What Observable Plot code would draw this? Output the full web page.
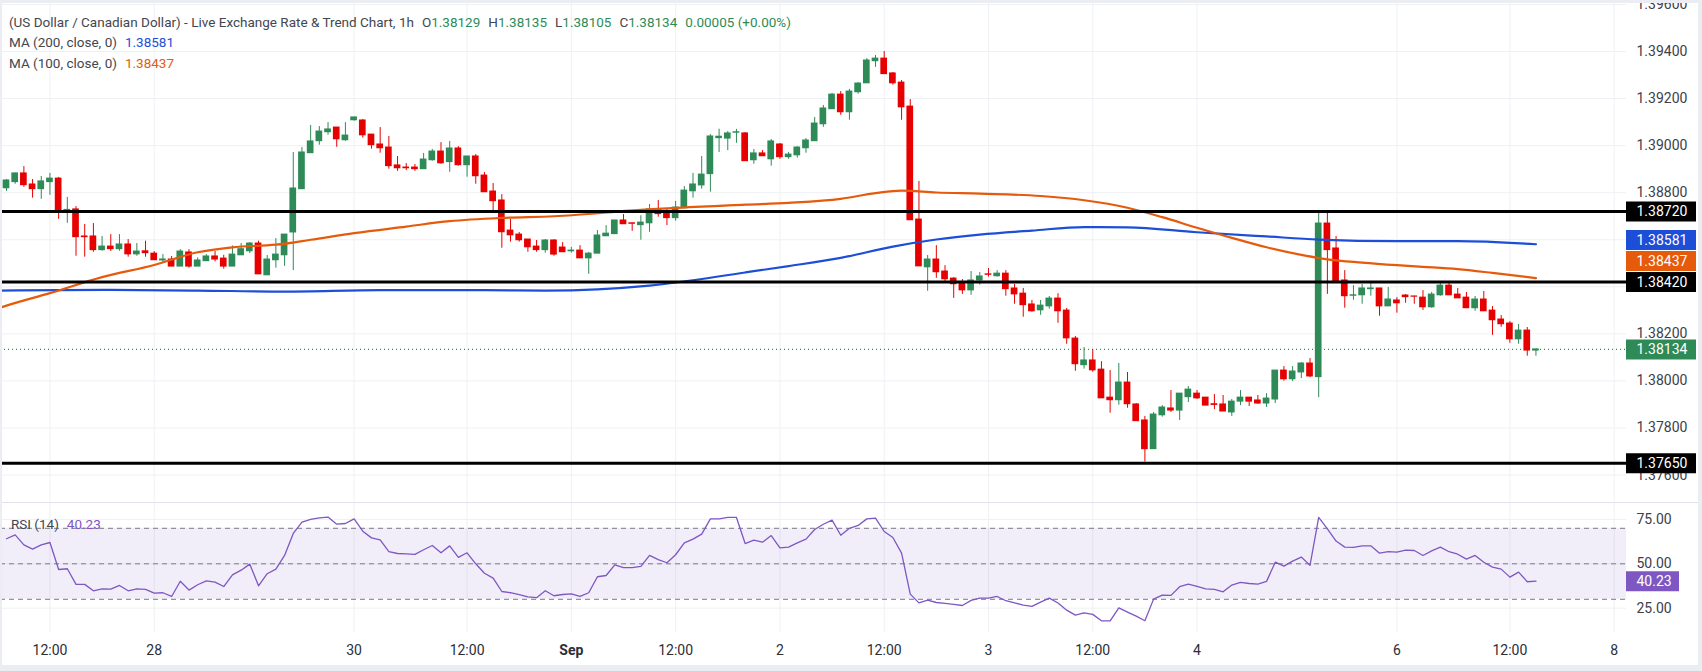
<!DOCTYPE html>
<html><head><meta charset="utf-8">
<script src="https://cdn.jsdelivr.net/npm/d3@7"></script>
<script src="https://cdn.jsdelivr.net/npm/@observablehq/plot@0.6"></script>
<style>
body{margin:0;background:#fff;}
#wrap{position:relative;width:1702px;height:671px;overflow:hidden;font-family:Roboto,"Liberation Sans",sans-serif;background:#fff;}
.row{display:flex;}
.row svg{display:block;}
.sep{position:absolute;left:0;top:502px;width:1702px;height:1px;background:#e0e3eb;}
.lg{position:absolute;left:9px;font-size:13.5px;line-height:20px;color:#43464f;white-space:pre;}
.lg span.g{margin-left:8px;}
.frame{position:absolute;left:0;top:0;width:1702px;height:671px;box-sizing:border-box;border-style:solid;border-color:#ebedf2;border-width:3px 4px 6px 2px;pointer-events:none;}
</style></head><body>
<div id="wrap">
  <div class="row" id="priceRow"></div>
  <div class="row" id="rsiRow"></div>
  <div class="sep"></div>
  <div class="lg" id="lg1" style="top:12px"></div>
  <div class="lg" id="lg2" style="top:32px"></div>
  <div class="lg" id="lg3" style="top:53px"></div>
  <div class="lg" id="lg4" style="top:514px;left:11px"></div>
  <div class="frame"></div>
</div>
<script>
// ---------- data ----------
const open = [1.38819,1.38845,1.38882,1.38835,1.38815,1.38845,1.38860,1.38723,1.38729,1.38614,
1.38614,1.38556,1.38571,1.38560,1.38580,1.38538,1.38551,1.38541,1.38512,1.38516,
1.38486,1.38546,1.38486,1.38509,1.38529,1.38520,1.38486,1.38534,1.38551,1.38584,
1.38449,1.38513,1.38534,1.38631,1.38815,1.38968,1.39019,1.39057,1.39077,1.39023,
1.39108,1.39107,1.39047,1.39005,1.38992,1.38916,1.38907,1.38907,1.38900,1.38938,
1.38975,1.38930,1.38988,1.38917,1.38954,1.38873,1.38805,1.38767,1.38639,1.38622,
1.38601,1.38571,1.38556,1.38597,1.38567,1.38551,1.38554,1.38521,1.38541,1.38615,
1.38624,1.38682,1.38670,1.38662,1.38670,1.38729,1.38711,1.38692,1.38734,1.38806,
1.38831,1.38879,1.39032,1.39030,1.39055,1.39052,1.38938,1.38967,1.38942,1.39005,
1.38951,1.38959,1.38989,1.39019,1.39091,1.39155,1.39217,1.39142,1.39227,1.39265,
1.39359,1.39370,1.39307,1.39268,1.39166,1.38686,1.38483,1.38516,1.38465,1.38435,
1.38415,1.38385,1.38427,1.38453,1.38445,1.38456,1.38393,1.38371,1.38325,1.38300,
1.38317,1.38350,1.38299,1.38180,1.38067,1.38087,1.38048,1.37929,1.37918,1.37993,
1.37900,1.37832,1.37710,1.37854,1.37883,1.37874,1.37931,1.37946,1.37929,1.37901,
1.37900,1.37866,1.37912,1.37929,1.37917,1.37904,1.37921,1.38044,1.38007,1.38036,
1.38074,1.38016,1.38669,1.38563,1.38427,1.38362,1.38364,1.38390,1.38393,1.38317,
1.38342,1.38363,1.38359,1.38354,1.38313,1.38364,1.38405,1.38367,1.38354,1.38309,
1.38346,1.38299,1.38261,1.38244,1.38177,1.38214,1.38129];
const high = [1.38856,1.38883,1.38911,1.38856,1.38869,1.38882,1.38865,1.38780,1.38741,1.38665,
1.38669,1.38614,1.38622,1.38622,1.38601,1.38584,1.38594,1.38550,1.38537,1.38529,
1.38558,1.38558,1.38523,1.38537,1.38550,1.38534,1.38574,1.38584,1.38588,1.38594,
1.38533,1.38605,1.38622,1.38971,1.38992,1.39086,1.39081,1.39098,1.39077,1.39098,
1.39120,1.39111,1.39047,1.39077,1.39039,1.38954,1.38924,1.38920,1.38967,1.38984,
1.39013,1.39018,1.38996,1.38954,1.38962,1.38886,1.38839,1.38792,1.38686,1.38631,
1.38601,1.38597,1.38601,1.38600,1.38588,1.38568,1.38575,1.38546,1.38639,1.38660,
1.38682,1.38707,1.38670,1.38702,1.38750,1.38767,1.38730,1.38763,1.38826,1.38882,
1.38954,1.39047,1.39070,1.39060,1.39069,1.39056,1.38984,1.38979,1.39026,1.39009,
1.38971,1.38996,1.39030,1.39120,1.39171,1.39222,1.39230,1.39239,1.39268,1.39370,
1.39383,1.39400,1.39311,1.39277,1.39196,1.38848,1.38533,1.38575,1.38490,1.38439,
1.38431,1.38465,1.38461,1.38478,1.38469,1.38469,1.38410,1.38393,1.38342,1.38342,
1.38359,1.38371,1.38308,1.38189,1.38142,1.38133,1.38082,1.38044,1.38074,1.38036,
1.37904,1.37849,1.37866,1.37895,1.37959,1.37946,1.37976,1.37959,1.37929,1.37942,
1.37938,1.37921,1.37959,1.37929,1.37938,1.37946,1.38044,1.38061,1.38061,1.38078,
1.38095,1.38722,1.38722,1.38614,1.38469,1.38405,1.38410,1.38418,1.38393,1.38397,
1.38354,1.38367,1.38360,1.38384,1.38376,1.38418,1.38414,1.38393,1.38376,1.38359,
1.38380,1.38316,1.38278,1.38252,1.38240,1.38227,1.38135];
const low = [1.38806,1.38836,1.38823,1.38777,1.38772,1.38789,1.38687,1.38670,1.38530,1.38526,
1.38547,1.38551,1.38550,1.38551,1.38526,1.38530,1.38526,1.38512,1.38504,1.38485,
1.38486,1.38479,1.38486,1.38509,1.38506,1.38475,1.38486,1.38534,1.38541,1.38453,
1.38449,1.38479,1.38487,1.38469,1.38815,1.38968,1.39002,1.39044,1.38993,1.39019,
1.39104,1.39032,1.38985,1.38968,1.38900,1.38891,1.38894,1.38891,1.38900,1.38934,
1.38921,1.38887,1.38913,1.38866,1.38836,1.38802,1.38717,1.38564,1.38590,1.38590,
1.38547,1.38547,1.38543,1.38530,1.38547,1.38543,1.38521,1.38453,1.38541,1.38615,
1.38624,1.38666,1.38636,1.38598,1.38632,1.38696,1.38660,1.38679,1.38734,1.38777,
1.38815,1.38802,1.38971,1.38979,1.39010,1.38934,1.38921,1.38955,1.38913,1.38942,
1.38942,1.38947,1.38968,1.39019,1.39078,1.39155,1.39129,1.39108,1.39219,1.39265,
1.39333,1.39304,1.39257,1.39108,1.38683,1.38487,1.38381,1.38436,1.38415,1.38351,
1.38368,1.38364,1.38407,1.38441,1.38441,1.38360,1.38326,1.38271,1.38292,1.38279,
1.38305,1.38245,1.38156,1.38041,1.38050,1.38037,1.37926,1.37863,1.37897,1.37884,
1.37829,1.37655,1.37710,1.37846,1.37866,1.37832,1.37908,1.37921,1.37895,1.37878,
1.37870,1.37849,1.37895,1.37891,1.37900,1.37887,1.37904,1.37999,1.37997,1.38010,
1.38014,1.37929,1.38368,1.38421,1.38309,1.38343,1.38326,1.38360,1.38275,1.38317,
1.38288,1.38330,1.38326,1.38300,1.38309,1.38360,1.38364,1.38351,1.38309,1.38296,
1.38296,1.38194,1.38228,1.38160,1.38156,1.38105,1.38105];
const close = [1.38852,1.38882,1.38832,1.38815,1.38848,1.38860,1.38720,1.38727,1.38611,1.38611,
1.38556,1.38571,1.38560,1.38580,1.38538,1.38550,1.38543,1.38513,1.38516,1.38486,
1.38550,1.38486,1.38512,1.38529,1.38516,1.38486,1.38537,1.38560,1.38584,1.38453,
1.38516,1.38537,1.38622,1.38818,1.38971,1.39018,1.39060,1.39069,1.39027,1.39043,
1.39120,1.39044,1.39002,1.38989,1.38913,1.38904,1.38904,1.38900,1.38941,1.38975,
1.38925,1.38988,1.38917,1.38954,1.38870,1.38802,1.38764,1.38632,1.38619,1.38598,
1.38568,1.38556,1.38597,1.38537,1.38547,1.38554,1.38521,1.38541,1.38618,1.38626,
1.38682,1.38666,1.38668,1.38673,1.38729,1.38709,1.38692,1.38737,1.38809,1.38835,
1.38877,1.39039,1.39038,1.39052,1.39057,1.38934,1.38967,1.38955,1.39018,1.38951,
1.38962,1.38992,1.39022,1.39094,1.39158,1.39217,1.39142,1.39230,1.39264,1.39362,
1.39370,1.39304,1.39265,1.39163,1.38683,1.38487,1.38516,1.38462,1.38432,1.38411,
1.38385,1.38427,1.38444,1.38451,1.38456,1.38390,1.38368,1.38322,1.38296,1.38320,
1.38350,1.38296,1.38181,1.38071,1.38087,1.38045,1.37926,1.37918,1.37993,1.37901,
1.37829,1.37710,1.37857,1.37887,1.37874,1.37946,1.37963,1.37926,1.37895,1.37898,
1.37870,1.37912,1.37929,1.37912,1.37904,1.37925,1.38044,1.38007,1.38040,1.38074,
1.38019,1.38669,1.38556,1.38424,1.38360,1.38364,1.38393,1.38393,1.38317,1.38346,
1.38330,1.38356,1.38358,1.38313,1.38367,1.38405,1.38364,1.38351,1.38309,1.38346,
1.38296,1.38258,1.38241,1.38177,1.38214,1.38129,1.38134];

const rsi = [64.1,66.3,60.7,58.3,60.7,62.0,46.8,47.2,38.4,38.4,
34.8,35.9,35.7,37.8,34.8,35.9,35.6,33.5,33.7,31.6,
40.2,35.2,38.2,40.4,39.7,37.2,43.8,46.4,49.8,37.6,
44.4,47.0,54.7,67.1,73.5,75.0,75.9,76.3,72.3,72.7,
75.3,68.4,64.6,63.5,56.8,55.8,55.6,55.3,57.9,60.3,
56.2,60.1,53.6,56.2,50.0,44.7,41.9,34.4,33.7,32.7,
31.4,30.9,34.8,32.0,32.7,33.1,31.6,33.7,42.7,43.4,
49.4,47.9,47.9,48.5,54.7,52.4,50.6,55.1,61.8,63.9,
66.7,75.3,75.3,76.1,76.1,61.4,63.3,62.2,65.9,59.0,
59.4,61.8,63.9,69.3,72.3,74.6,66.1,70.0,71.6,75.3,
75.7,68.2,64.8,56.0,32.9,28.0,29.5,28.2,27.7,27.1,
26.5,29.4,30.7,30.7,31.6,29.2,28.0,26.7,26.0,28.4,
30.7,27.9,23.9,21.1,22.4,21.5,17.9,17.9,25.2,22.8,
20.5,17.9,30.1,32.4,32.2,37.1,38.6,37.3,35.9,35.6,
34.2,38.0,39.5,38.9,38.6,40.1,50.9,48.7,51.5,53.8,
49.1,76.1,69.7,62.8,59.4,59.2,60.1,60.1,56.0,56.9,
56.6,57.7,57.5,54.7,57.3,59.4,56.8,55.4,52.6,54.7,
50.9,48.1,47.0,42.5,45.3,39.9,40.23];

const ma100Idx = [-1,0,5,11,17,22,26,31,35,40,46,51,57,63,73,85,90,96,100,103,107,112,119,124,129,133,137,141,145,149,152,156,160,163,167,171,176];
const ma100Val = [1.38308,1.38320,1.38373,1.38441,1.38493,1.38547,1.38568,1.38579,1.38600,1.38628,1.38656,1.38679,1.38693,1.38700,1.38727,1.38749,1.38757,1.38774,1.38798,1.38809,1.38801,1.38796,1.38786,1.38768,1.38736,1.38696,1.38651,1.38608,1.38568,1.38536,1.38517,1.38503,1.38492,1.38485,1.38475,1.38459,1.38437];
const ma200Idx = [-1,11,22,32,43,55,62,74,85,90,96,102,107,112,118,124,129,137,145,151,160,167,176];
const ma200Val = [1.38384,1.38387,1.38384,1.38380,1.38386,1.38386,1.38384,1.38405,1.38461,1.38488,1.38523,1.38571,1.38601,1.38622,1.38639,1.38654,1.38653,1.38632,1.38614,1.38601,1.38594,1.38594,1.38581];

const levelLines = [1.38720, 1.38420, 1.37650];
const priceTicks = [1.376,1.378,1.380,1.382,1.384,1.386,1.388,1.390,1.392,1.394,1.396];
const timeTickIdx = [5,17,40,53,65,77,89,101,113,125,137,160,173,185];
const timeTickLabels = ["12:00","28","30","12:00","Sep","12:00","2","12:00","3","12:00","4","6","12:00","8"];
const boldTick = "Sep";
const rsiTicks = [25,50,75];
const rsiLevels = [70,50,30];
const rsiBand = [30,70];

// ---------- styling ----------
const FONT = "Roboto, 'Liberation Sans', sans-serif";
const GREEN = "#2e8b57", RED = "#e60000", BLUE = "#1c4ed8", ORANGE = "#e65a0b", PURPLE = "#7e57c2";
const GRID = "#eef0f4", AXIS_TEXT = "#3d4049", TIME_TEXT = "#2a2e39";
const X_DOMAIN = [-0.69, 186.42];
const PRICE_DOMAIN = [1.37479, 1.39617];
const RSI_DOMAIN = [11.3, 83.97];
const PRICE_H = 503, RSI_H = 168, MAIN_W = 1626, AXIS_W = 76;

const N = close.length;
const candles = close.map((c, i) => ({i, o: open[i], h: high[i], l: low[i], c, col: c >= open[i] ? GREEN : RED}));
const ma100 = ma100Idx.map((i, k) => ({i, v: ma100Val[k]}));
const ma200 = ma200Idx.map((i, k) => ({i, v: ma200Val[k]}));
const rsiData = rsi.map((v, i) => ({i, v}));
const lastClose = close[N - 1];
const ma200Last = ma200Val[ma200Val.length - 1];
const ma100Last = ma100Val[ma100Val.length - 1];
const rsiLast = rsi[N - 1];
const tickLabel = new Map(timeTickIdx.map((t, k) => [t, timeTickLabels[k]]));

// axis badges, pushed apart when they would overlap (like the original)
const badgeH = 21 * (PRICE_DOMAIN[1] - PRICE_DOMAIN[0]) / PRICE_H;
const badges = [
  {v: levelLines[0], bg: "#000000", fixed: true},
  {v: ma200Last, bg: BLUE},
  {v: ma100Last, bg: ORANGE},
  {v: levelLines[1], bg: "#000000", fixed: true},
  {v: lastClose, bg: GREEN},
  {v: levelLines[2], bg: "#000000", fixed: true}
];
badges.forEach(b => b.pos = b.v);
const sorted = badges.slice().sort((a, b) => a.v - b.v);
for (let k = 1; k < sorted.length; k++) {
  const prev = sorted[k - 1], cur = sorted[k];
  if (cur.pos - prev.pos < badgeH && !cur.fixed) cur.pos = prev.pos + badgeH;
}

// ---------- price pane ----------
const pricePlot = Plot.plot({
  width: MAIN_W, height: PRICE_H, margin: 0,
  style: {fontFamily: FONT, background: "transparent"},
  x: {domain: X_DOMAIN, axis: null, label: null},
  y: {domain: PRICE_DOMAIN, axis: null, label: null},
  marks: [
    Plot.gridY(priceTicks, {stroke: GRID, strokeOpacity: 1}),
    Plot.gridX(timeTickIdx, {stroke: GRID, strokeOpacity: 1}),
    Plot.ruleY([lastClose], {stroke: GREEN, strokeDasharray: "1,3", strokeWidth: 1.2}),
    Plot.ruleX(candles, {x: "i", y1: "l", y2: "h", stroke: "col", strokeWidth: 1}),
    Plot.rect(candles, {x1: d => d.i - 0.385, x2: d => d.i + 0.385,
      y1: d => Math.min(d.o, d.c), y2: d => Math.max(d.o, d.c), fill: "col",
      insetTop: -0.5, insetBottom: -0.5}),
    Plot.line(ma200, {x: "i", y: "v", stroke: BLUE, strokeWidth: 2.2, curve: "monotone-x"}),
    Plot.line(ma100, {x: "i", y: "v", stroke: ORANGE, strokeWidth: 2.2, curve: "monotone-x"}),
    Plot.ruleY(levelLines, {stroke: "#000", strokeWidth: 3})
  ]
});

const priceAxis = Plot.plot({
  width: AXIS_W, height: PRICE_H, margin: 0,
  style: {fontFamily: FONT, background: "transparent"},
  x: {domain: [0, 1], axis: null, label: null},
  y: {domain: PRICE_DOMAIN, axis: null, label: null},
  marks: [
    Plot.axisY(priceTicks, {anchor: "left", label: null, tickSize: 0, tickPadding: 0, dx: 10, textAnchor: "start",
      tickFormat: d => d.toFixed(5), fontSize: 14, fill: AXIS_TEXT}),
    Plot.ruleY(badges, {y: "pos", stroke: "bg", strokeWidth: 20, insetRight: 6}),
    Plot.text(badges, {y: "pos", text: d => d.v.toFixed(5), frameAnchor: "left", dx: 10,
      textAnchor: "start", fill: "#ffffff", fontSize: 14})
  ]
});

// ---------- RSI pane ----------
const normalTicks = timeTickIdx.filter(t => tickLabel.get(t) !== boldTick);
const boldTicks = timeTickIdx.filter(t => tickLabel.get(t) === boldTick);
const rsiPlot = Plot.plot({
  width: MAIN_W, height: RSI_H, marginTop: 0, marginBottom: 39, marginLeft: 0, marginRight: 0,
  style: {fontFamily: FONT, background: "transparent"},
  x: {domain: X_DOMAIN, axis: null, label: null},
  y: {domain: RSI_DOMAIN, axis: null, label: null},
  marks: [
    Plot.gridY(rsiTicks, {stroke: GRID, strokeOpacity: 1}),
    Plot.gridX(timeTickIdx, {stroke: GRID, strokeOpacity: 1}),
    Plot.rect([rsiBand], {y1: d => d[0], y2: d => d[1], fill: PURPLE, fillOpacity: 0.1}),
    Plot.ruleY(rsiLevels, {stroke: "#787b86", strokeDasharray: "5,4"}),
    Plot.line(rsiData, {x: "i", y: "v", stroke: PURPLE, strokeWidth: 1.3}),
    Plot.axisX(normalTicks, {anchor: "bottom", label: null, tickSize: 0, tickPadding: 13,
      tickFormat: d => tickLabel.get(d), fontSize: 14, fill: TIME_TEXT}),
    Plot.axisX(boldTicks, {anchor: "bottom", label: null, tickSize: 0, tickPadding: 13,
      tickFormat: d => tickLabel.get(d), fontSize: 14, fill: TIME_TEXT, fontWeight: "bold"})
  ]
});

const rsiAxis = Plot.plot({
  width: AXIS_W, height: RSI_H, marginTop: 0, marginBottom: 39, marginLeft: 0, marginRight: 0,
  style: {fontFamily: FONT, background: "transparent"},
  x: {domain: [0, 1], axis: null, label: null},
  y: {domain: RSI_DOMAIN, axis: null, label: null},
  marks: [
    Plot.axisY(rsiTicks, {anchor: "left", label: null, tickSize: 0, tickPadding: 0, dx: 10, textAnchor: "start",
      tickFormat: d => d.toFixed(2), fontSize: 14, fill: AXIS_TEXT}),
    Plot.ruleY([rsiLast], {stroke: PURPLE, strokeWidth: 20, insetRight: 23}),
    Plot.text([rsiLast], {y: d => d, text: d => d.toFixed(2), frameAnchor: "left", dx: 10,
      textAnchor: "start", fill: "#ffffff", fontSize: 14})
  ]
});

document.getElementById("priceRow").append(pricePlot, priceAxis);
document.getElementById("rsiRow").append(rsiPlot, rsiAxis);

// ---------- legends ----------
const f5 = v => v.toFixed(5);
const chg = close[N - 1] - close[N - 2];
const pct = chg / close[N - 2] * 100;
const val = (k, v) => `<span class="g">${k}<span style="color:${GREEN}">${v}</span></span>`;
document.getElementById("lg1").innerHTML =
  "(US Dollar / Canadian Dollar) - Live Exchange Rate &amp; Trend Chart, 1h" +
  val("O", f5(open[N - 1])) + val("H", f5(high[N - 1])) + val("L", f5(low[N - 1])) + val("C", f5(close[N - 1])) +
  `<span class="g" style="color:${GREEN}">${f5(chg)} (${chg >= 0 ? "+" : ""}${pct.toFixed(2)}%)</span>`;
document.getElementById("lg2").innerHTML = `MA (200, close, 0)<span class="g" style="color:${BLUE}">${f5(ma200Last)}</span>`;
document.getElementById("lg3").innerHTML = `MA (100, close, 0)<span class="g" style="color:${ORANGE}">${f5(ma100Last)}</span>`;
document.getElementById("lg4").innerHTML = `RSI (14)<span class="g" style="color:${PURPLE}">${rsiLast.toFixed(2)}</span>`;
</script>
</body></html>
